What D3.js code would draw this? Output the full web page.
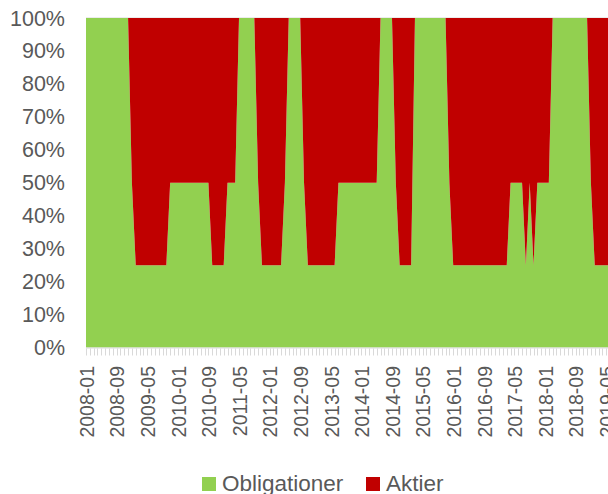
<!DOCTYPE html>
<html>
<head>
<meta charset="utf-8">
<script src="https://cdn.jsdelivr.net/npm/d3@7"></script>
<style>
  html, body { margin: 0; padding: 0; background: #fff; }
  svg { display: block; }
</style>
</head>
<body>
<svg id="chart" width="608" height="494"></svg>
<script>
// Monthly allocation, 2008-01 .. 2019-06 (percent). One row per year.
const startYear = 2008;
const monthCount = 138;
const months = d3.range(monthCount).map(i =>
  `${startYear + Math.floor(i / 12)}-${String(i % 12 + 1).padStart(2, "0")}`);

const obligationer = [
  100, 100, 100, 100, 100, 100, 100, 100, 100, 100, 100, 100, // 2008
  50, 25, 25, 25, 25, 25, 25, 25, 25, 25, 50, 50,             // 2009
  50, 50, 50, 50, 50, 50, 50, 50, 50, 25, 25, 25,             // 2010
  25, 50, 50, 50, 100, 100, 100, 100, 100, 50, 25, 25,        // 2011
  25, 25, 25, 25, 50, 100, 100, 100, 100, 50, 25, 25,         // 2012
  25, 25, 25, 25, 25, 25, 50, 50, 50, 50, 50, 50,             // 2013
  50, 50, 50, 50, 50, 100, 100, 100, 100, 50, 25, 25,         // 2014
  25, 25, 100, 100, 100, 100, 100, 100, 100, 100, 100, 50,    // 2015
  25, 25, 25, 25, 25, 25, 25, 25, 25, 25, 25, 25,             // 2016
  25, 25, 25, 50, 50, 50, 50, 25, 50, 25, 50, 50,             // 2017
  50, 50, 100, 100, 100, 100, 100, 100, 100, 100, 100, 100,   // 2018
  50, 25, 25, 25, 25, 25                                      // 2019
];
const aktier = [
  0, 0, 0, 0, 0, 0, 0, 0, 0, 0, 0, 0,
  50, 75, 75, 75, 75, 75, 75, 75, 75, 75, 50, 50,
  50, 50, 50, 50, 50, 50, 50, 50, 50, 75, 75, 75,
  75, 50, 50, 50, 0, 0, 0, 0, 0, 50, 75, 75,
  75, 75, 75, 75, 50, 0, 0, 0, 0, 50, 75, 75,
  75, 75, 75, 75, 75, 75, 50, 50, 50, 50, 50, 50,
  50, 50, 50, 50, 50, 0, 0, 0, 0, 50, 75, 75,
  75, 75, 0, 0, 0, 0, 0, 0, 0, 0, 0, 50,
  75, 75, 75, 75, 75, 75, 75, 75, 75, 75, 75, 75,
  75, 75, 75, 50, 50, 50, 50, 75, 50, 75, 50, 50,
  50, 50, 0, 0, 0, 0, 0, 0, 0, 0, 0, 0,
  50, 75, 75, 75, 75, 75
];

const seriesNames = ["Obligationer", "Aktier"];
const seriesColors = ["#92D050", "#C00000"];
const yTicks = [0, 10, 20, 30, 40, 50, 60, 70, 80, 90, 100];
const labelEvery = 8;

const svg = d3.select("#chart");
const margin = { left: 86, top: 18, bottom: 347.5 };
const step = 3.825;

const rows = months.map((m, i) => ({ month: m, Obligationer: obligationer[i], Aktier: aktier[i] }));
const stacked = d3.stack().keys(seriesNames)(rows);

const x = d3.scalePoint(months, [margin.left, margin.left + step * (monthCount - 1)]);
const y = d3.scaleLinear([0, 100], [margin.bottom, margin.top]);

// top gridline
svg.append("line").attr("x1", margin.left).attr("x2", 608)
  .attr("y1", y(100)).attr("y2", y(100))
  .attr("stroke", "#d9d9d9").attr("stroke-width", 1);

// stacked areas
const area = d3.area()
  .x(d => x(d.data.month))
  .y0(d => y(d[0]))
  .y1(d => y(d[1]));

svg.append("g").selectAll("path").data(stacked).join("path")
  .attr("d", area)
  .attr("fill", (d, i) => seriesColors[i]);

// x axis line and monthly ticks
svg.append("line").attr("x1", margin.left).attr("x2", 608)
  .attr("y1", margin.bottom + 0.5).attr("y2", margin.bottom + 0.5)
  .attr("stroke", "#d9d9d9").attr("stroke-width", 1);
svg.append("g").selectAll("line").data(months).join("line")
  .attr("x1", d => Math.round(x(d)) + 0.5).attr("x2", d => Math.round(x(d)) + 0.5)
  .attr("y1", margin.bottom + 1).attr("y2", margin.bottom + 8)
  .attr("stroke", "#d9d9d9").attr("stroke-width", 1);

// x labels (every 8th month, rotated)
svg.append("g").selectAll("text")
  .data(months.filter((m, i) => i % labelEvery === 0)).join("text")
  .attr("transform", d => `translate(${x(d) + 1},366) rotate(-90)`)
  .attr("text-anchor", "end").attr("dy", "0.35em")
  .attr("font-family", "Liberation Sans, Arial, sans-serif")
  .attr("font-size", 19.5).attr("fill", "#595959")
  .text(d => d);

// y labels
svg.append("g").selectAll("text").data(yTicks).join("text")
  .attr("x", 65).attr("y", d => y(d)).attr("dy", "0.35em")
  .attr("text-anchor", "end")
  .attr("font-family", "Liberation Sans, Arial, sans-serif")
  .attr("font-size", 21.5).attr("fill", "#595959")
  .text(d => `${d}%`);

// legend
const legendX = [202, 366];
const legend = svg.append("g").selectAll("g").data(seriesNames).join("g")
  .attr("transform", (d, i) => `translate(${legendX[i]},477)`);
legend.append("rect").attr("width", 14).attr("height", 14)
  .attr("fill", (d, i) => seriesColors[i]);
legend.append("text").attr("x", 20).attr("y", 14)
  .attr("font-family", "Liberation Sans, Arial, sans-serif")
  .attr("font-size", 22.5).attr("fill", "#595959")
  .text(d => d);
</script>
</body>
</html>
